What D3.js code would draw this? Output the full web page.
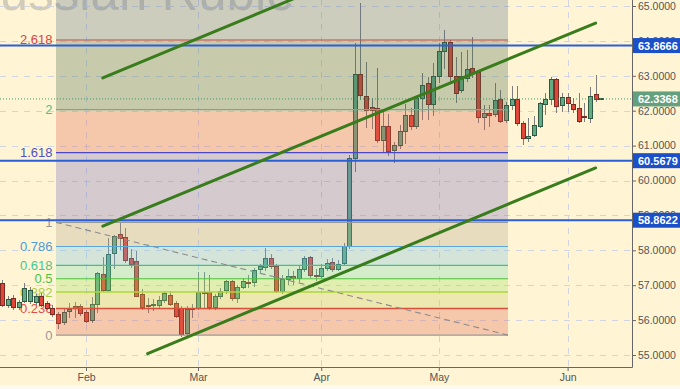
<!DOCTYPE html>
<html><head><meta charset="utf-8">
<script src="https://cdn.jsdelivr.net/npm/d3@7"></script>
<style>
html,body{margin:0;padding:0;background:#fff4d4;}
svg{display:block;font-family:Arial,"Liberation Sans",sans-serif;}
</style>
</head><body>
<svg id="chart" width="680" height="389"></svg>
<script>
// ---------------- data ----------------
const title = "Russian Ruble";
const dates = [
"2018-01-11","2018-01-12","2018-01-15","2018-01-16","2018-01-17","2018-01-18","2018-01-19","2018-01-22","2018-01-23","2018-01-24","2018-01-25","2018-01-26","2018-01-29","2018-01-30","2018-01-31",
"2018-02-01","2018-02-02","2018-02-05","2018-02-06","2018-02-07","2018-02-08","2018-02-09","2018-02-12","2018-02-13","2018-02-14","2018-02-15","2018-02-16","2018-02-19","2018-02-20","2018-02-21","2018-02-22","2018-02-23","2018-02-26","2018-02-27","2018-02-28",
"2018-03-01","2018-03-02","2018-03-05","2018-03-06","2018-03-07","2018-03-08","2018-03-09","2018-03-12","2018-03-13","2018-03-14","2018-03-15","2018-03-16","2018-03-19","2018-03-20","2018-03-21","2018-03-22","2018-03-23","2018-03-26","2018-03-27","2018-03-28","2018-03-29","2018-03-30",
"2018-04-02","2018-04-03","2018-04-04","2018-04-05","2018-04-06","2018-04-09","2018-04-10","2018-04-11","2018-04-12","2018-04-13","2018-04-16","2018-04-17","2018-04-18","2018-04-19","2018-04-20","2018-04-23","2018-04-24","2018-04-25","2018-04-26","2018-04-27","2018-04-30",
"2018-05-01","2018-05-02","2018-05-03","2018-05-04","2018-05-07","2018-05-08","2018-05-09","2018-05-10","2018-05-11","2018-05-14","2018-05-15","2018-05-16","2018-05-17","2018-05-18","2018-05-21","2018-05-22","2018-05-23","2018-05-24","2018-05-25","2018-05-28","2018-05-29","2018-05-30","2018-05-31",
"2018-06-01","2018-06-04","2018-06-05","2018-06-06","2018-06-07","2018-06-08","2018-06-11"];
const open = [
57.06,56.43,56.62,56.37,56.53,56.52,56.50,56.67,56.48,56.34,56.17,55.93,56.25,56.38,56.38,
56.23,56.00,56.46,57.32,56.84,57.91,58.44,58.37,57.77,57.67,56.72,56.42,56.42,56.43,56.55,56.71,56.48,56.32,55.62,56.33,
56.34,56.80,56.79,56.37,56.67,56.84,57.10,56.62,56.94,57.07,57.07,57.44,57.51,57.77,57.55,56.81,57.17,57.26,57.20,57.44,57.79,57.28,
57.26,57.48,57.65,57.44,57.63,58.10,60.64,63.05,62.42,62.08,62.07,61.16,61.56,60.85,60.99,61.40,61.85,61.56,62.36,62.77,62.19,
62.97,63.69,63.95,62.99,62.59,62.93,63.21,63.09,61.81,61.91,61.88,62.31,61.71,62.16,62.31,61.62,61.19,61.30,61.56,62.19,62.33,62.88,62.16,
62.38,62.19,62.07,61.82,61.78,62.45,62.33];
const high = [
57.15,56.68,56.72,56.58,57.05,56.95,56.75,56.78,56.55,56.42,56.22,56.32,56.50,56.52,56.45,
56.30,56.65,57.38,57.80,58.35,58.45,58.79,58.64,58.05,57.99,56.90,56.62,56.60,56.70,56.82,56.82,56.55,56.40,56.40,56.45,
57.39,57.38,57.30,56.75,56.92,57.15,57.15,57.00,57.20,57.28,57.50,57.62,58.06,57.88,57.60,57.30,57.45,57.40,57.55,57.85,57.85,57.45,
57.62,57.75,57.78,57.72,58.20,60.72,63.93,65.08,63.40,62.36,63.21,61.95,61.90,61.10,61.60,62.19,62.08,62.40,63.07,62.97,63.36,
63.93,64.30,64.03,63.55,63.69,63.74,64.12,63.12,62.16,62.16,62.79,62.59,62.25,62.71,62.71,61.70,61.78,61.85,62.25,62.52,62.96,62.93,62.50,
62.50,62.36,62.50,62.21,62.69,63.02,62.36];
const low = [
56.38,56.36,56.28,56.30,56.48,56.45,56.42,56.38,56.28,56.10,55.75,55.85,56.05,56.06,56.12,
55.92,55.92,56.20,56.80,56.80,57.45,58.00,57.65,57.50,56.65,56.30,56.20,56.25,56.35,56.48,56.40,56.05,55.52,55.55,56.05,
56.30,56.35,56.30,56.30,56.60,56.75,56.55,56.50,56.88,56.92,56.95,57.35,57.40,57.45,56.78,56.75,57.00,57.00,57.10,57.38,57.20,57.12,
57.20,57.40,57.38,57.40,57.58,58.05,60.25,62.30,61.50,61.47,61.07,60.80,60.70,60.50,60.90,61.05,61.45,61.48,61.73,61.73,61.85,
62.79,63.20,62.79,62.21,62.50,62.83,62.93,61.64,61.45,61.54,61.83,61.64,61.65,62.02,61.55,61.02,61.10,61.25,61.50,61.88,62.16,61.93,61.97,
61.95,61.93,61.64,61.68,61.66,62.25,62.32];
const close = [
56.43,56.60,56.37,56.51,56.91,56.84,56.69,56.43,56.34,56.15,55.90,56.21,56.31,56.33,56.20,
55.97,56.46,57.34,56.84,57.89,58.39,58.34,57.70,57.60,56.69,56.37,56.40,56.45,56.55,56.75,56.46,56.10,55.60,56.29,56.34,
56.79,56.78,56.37,56.69,56.81,57.10,56.62,56.94,57.10,57.05,57.42,57.53,57.77,57.53,56.81,57.17,57.26,57.20,57.46,57.77,57.29,57.26,
57.48,57.63,57.44,57.58,58.10,60.64,63.05,62.43,62.02,62.02,61.16,61.56,60.83,61.00,61.40,61.85,61.56,62.36,62.71,62.19,62.99,
63.69,63.95,62.97,62.50,62.97,63.19,63.07,61.81,61.91,61.85,62.29,61.68,62.16,62.31,61.62,61.19,61.25,61.59,62.21,62.31,62.88,62.13,62.38,
62.21,62.04,61.70,61.80,62.42,62.33,62.34];

const priceTicks = [55,56,57,58,59,60,61,62,63,64,65];
const monthLabels = ["Feb","Mar","Apr","May","Jun"];
const monthStarts = ["2018-02-01","2018-03-01","2018-04-02","2018-05-01","2018-06-01"];

const fibRatios   = [0,0.236,0.382,0.5,0.618,0.786,1,1.618,2,2.618,3.618];
const fibLabels   = ["0","0.236","0.382","0.5","0.618","0.786","1","1.618","2","2.618",""];
const fibLineColors = ["#9a9a9a","#d8503c","#b2d43c","#4cc43c","#3cc48c","#5aa8dc","#9a9a9a","#4848c8","#3cc4a0","#cc4848","#9a9a9a"];
const fibLabelColors = ["#9a9a9a","#e04c4c","#a8cc48","#44c844","#44c890","#4c9cd8","#9a9a9a","#5050c8","#3cc890","#d84444",""];
const fibBandColors = ["#de644d","#c0ce5d","#98e25d","#70dcb1","#70c1e3","#b2a68f","#736ec1","#de644d","#486e4d","#587489"];
const fibStart = ["2018-01-25", 58.80];
const fibEnd   = ["2018-05-17", 55.57];

const hLevels = [63.8666, 60.5679, 58.8622];
const lastPrice = 62.3368;
const channels = [
  [["2018-02-06",62.94],["2018-06-08",68.80]],
  [["2018-02-06",58.69],["2018-06-08",64.51]],
  [["2018-02-16",55.04],["2018-06-08",60.36]]
];

// ---------------- layout ----------------
const W = 680, H = 389, plotR = 632, plotB = 367;
const svg = d3.select("#chart");
const idx = d => dates.indexOf(d);
const x = d3.scaleLinear().domain([-0.36, 112.5]).range([0, plotR]);
const y = d3.scaleLinear().domain([55, 65]).range([355, 6]);
const xd = d => x(idx(d));

svg.append("rect").attr("width", W).attr("height", H).attr("fill", "#fff4d4");
svg.append("rect").attr("y", 385).attr("width", W).attr("height", 4).attr("fill", "#fffaf0");

svg.append("defs").append("clipPath").attr("id", "plotclip")
  .append("rect").attr("width", plotR).attr("height", plotB);

const plot = svg.append("g").attr("clip-path", "url(#plotclip)");

// watermark
plot.append("text").attr("x", -37).attr("y", 10)
  .attr("font-size", 51).attr("fill", "#9a9a9a").attr("fill-opacity", 0.45)
  .text(title);

// grid
plot.append("g").selectAll("line").data(priceTicks).join("line")
  .attr("x1", 0).attr("x2", plotR).attr("y1", d => Math.round(y(d)) + 0.5).attr("y2", d => Math.round(y(d)) + 0.5)
  .attr("stroke", "#d2d4e2").attr("stroke-dasharray", "6,6");
plot.append("g").selectAll("line").data(monthStarts).join("line")
  .attr("y1", 0).attr("y2", plotB).attr("x1", d => Math.round(xd(d)) + 0.5).attr("x2", d => Math.round(xd(d)) + 0.5)
  .attr("stroke", "#d2d4e2").attr("stroke-dasharray", "6,6");

// fib geometry
const fx1 = xd(fibStart[0]) - 2, fx2 = xd(fibEnd[0]) + 2;
const p1 = fibStart[1], p0 = fibEnd[1];
const fibPrice = r => p0 + r * (p1 - p0);

// fib labels (under candles)
plot.append("g").selectAll("text").data(fibRatios.slice(0, -1)).join("text")
  .attr("x", fx1 - 3.5).attr("y", d => y(fibPrice(d)) + 4.5)
  .attr("text-anchor", "end").attr("font-size", 13)
  .attr("fill", (d, i) => fibLabelColors[i])
  .text((d, i) => fibLabels[i]);

// candles
const candles = dates.map((d, i) => ({d, o: open[i], h: high[i], l: low[i], c: close[i]}));
const cg = plot.append("g").attr("shape-rendering", "crispEdges");
cg.selectAll("line").data(candles).join("line")
  .attr("x1", d => Math.round(xd(d.d)) + 0.5).attr("x2", d => Math.round(xd(d.d)) + 0.5)
  .attr("y1", d => y(d.h)).attr("y2", d => y(d.l))
  .attr("stroke", "#7c7c7c").attr("stroke-width", 1);
cg.selectAll("rect").data(candles).join("rect")
  .attr("x", d => Math.round(xd(d.d)) - 1.5).attr("width", 4)
  .attr("y", d => y(Math.max(d.o, d.c)))
  .attr("height", d => Math.max(1, Math.abs(y(d.o) - y(d.c))))
  .attr("fill", d => d.c >= d.o ? "#64aa84" : "#e0463a")
  .attr("stroke", d => d.c >= d.o ? "#2e5a44" : "#7a2a20")
  .attr("stroke-width", 1);

// fib bands
plot.append("g").selectAll("rect").data(fibRatios.slice(0, -1)).join("rect")
  .attr("x", fx1).attr("width", fx2 - fx1)
  .attr("y", (d, i) => y(fibPrice(fibRatios[i + 1])))
  .attr("height", (d, i) => y(fibPrice(d)) - y(fibPrice(fibRatios[i + 1])))
  .attr("fill", (d, i) => fibBandColors[i]).attr("fill-opacity", 0.3);

// fib level lines
plot.append("g").selectAll("line").data(fibRatios.slice(0, -1)).join("line")
  .attr("x1", fx1).attr("x2", fx2)
  .attr("y1", d => y(fibPrice(d))).attr("y2", d => y(fibPrice(d)))
  .attr("stroke", (d, i) => fibLineColors[i]).attr("stroke-width", (d, i) => (i === 1 || i === 2) ? 1.6 : 1.2);

// fib diagonal
plot.append("line")
  .attr("x1", fx1).attr("y1", y(p1)).attr("x2", fx2).attr("y2", y(p0))
  .attr("stroke", "#8c8c8c").attr("stroke-width", 1.1).attr("stroke-dasharray", "6,4");

// current price dotted line
plot.append("line").attr("x1", 0).attr("x2", plotR)
  .attr("y1", y(lastPrice)).attr("y2", y(lastPrice))
  .attr("stroke", "#3a9a66").attr("stroke-width", 1).attr("stroke-dasharray", "1,2");

// blue horizontal levels
plot.append("g").selectAll("line").data(hLevels).join("line")
  .attr("x1", 0).attr("x2", plotR).attr("y1", d => y(d)).attr("y2", d => y(d))
  .attr("stroke", "#2a5fd6").attr("stroke-width", 2);

// channel lines
const line = d3.line().x(p => xd(p[0])).y(p => y(p[1]));
plot.append("g").selectAll("path").data(channels).join("path")
  .attr("d", line).attr("fill", "none")
  .attr("stroke", "#387c1c").attr("stroke-width", 3).attr("stroke-linecap", "round");

// axes
const axR = svg.append("g").attr("transform", `translate(${plotR},0)`)
  .call(d3.axisRight(y).tickValues(priceTicks).tickFormat(d3.format(".4f")).tickSize(4).tickPadding(2).tickSizeOuter(0));
axR.select(".domain").remove();
axR.selectAll("line").attr("stroke", "#666");
axR.selectAll("text").attr("font-size", 10.5).attr("fill", "#555").attr("font-family", "Arial, 'Liberation Sans', sans-serif");

const axB = svg.append("g").attr("transform", `translate(0,${plotB})`)
  .call(d3.axisBottom(x).tickValues(monthStarts.map(idx)).tickFormat((d, i) => monthLabels[i]).tickSize(4).tickPadding(3).tickSizeOuter(0));
axB.select(".domain").remove();
axB.selectAll("line").attr("stroke", "#666");
axB.selectAll("text").attr("font-size", 10.5).attr("fill", "#555").attr("font-family", "Arial, 'Liberation Sans', sans-serif");

svg.append("line").attr("x1", plotR + 0.5).attr("x2", plotR + 0.5).attr("y1", 0).attr("y2", plotB + 0.5)
  .attr("stroke", "#666").attr("stroke-width", 1);
svg.append("line").attr("x1", 0).attr("x2", plotR + 0.5).attr("y1", plotB + 0.5).attr("y2", plotB + 0.5)
  .attr("stroke", "#666").attr("stroke-width", 1);

// right-hand price boxes
const boxes = hLevels.map(v => ({v, fill: "#1b50c8"})).concat([{v: lastPrice, fill: "#64a07e"}]);
const bg = svg.append("g").selectAll("g").data(boxes).join("g")
  .attr("transform", d => `translate(${plotR + 1},${y(d.v)})`);
bg.append("rect").attr("x", 0).attr("y", -7.5).attr("width", W - plotR - 1).attr("height", 15).attr("fill", d => d.fill);
bg.append("text").attr("x", 5).attr("y", 4).attr("font-size", 11).attr("font-weight", "bold")
  .attr("fill", "#fff").text(d => d3.format(".4f")(d.v));
</script>
</body></html>
